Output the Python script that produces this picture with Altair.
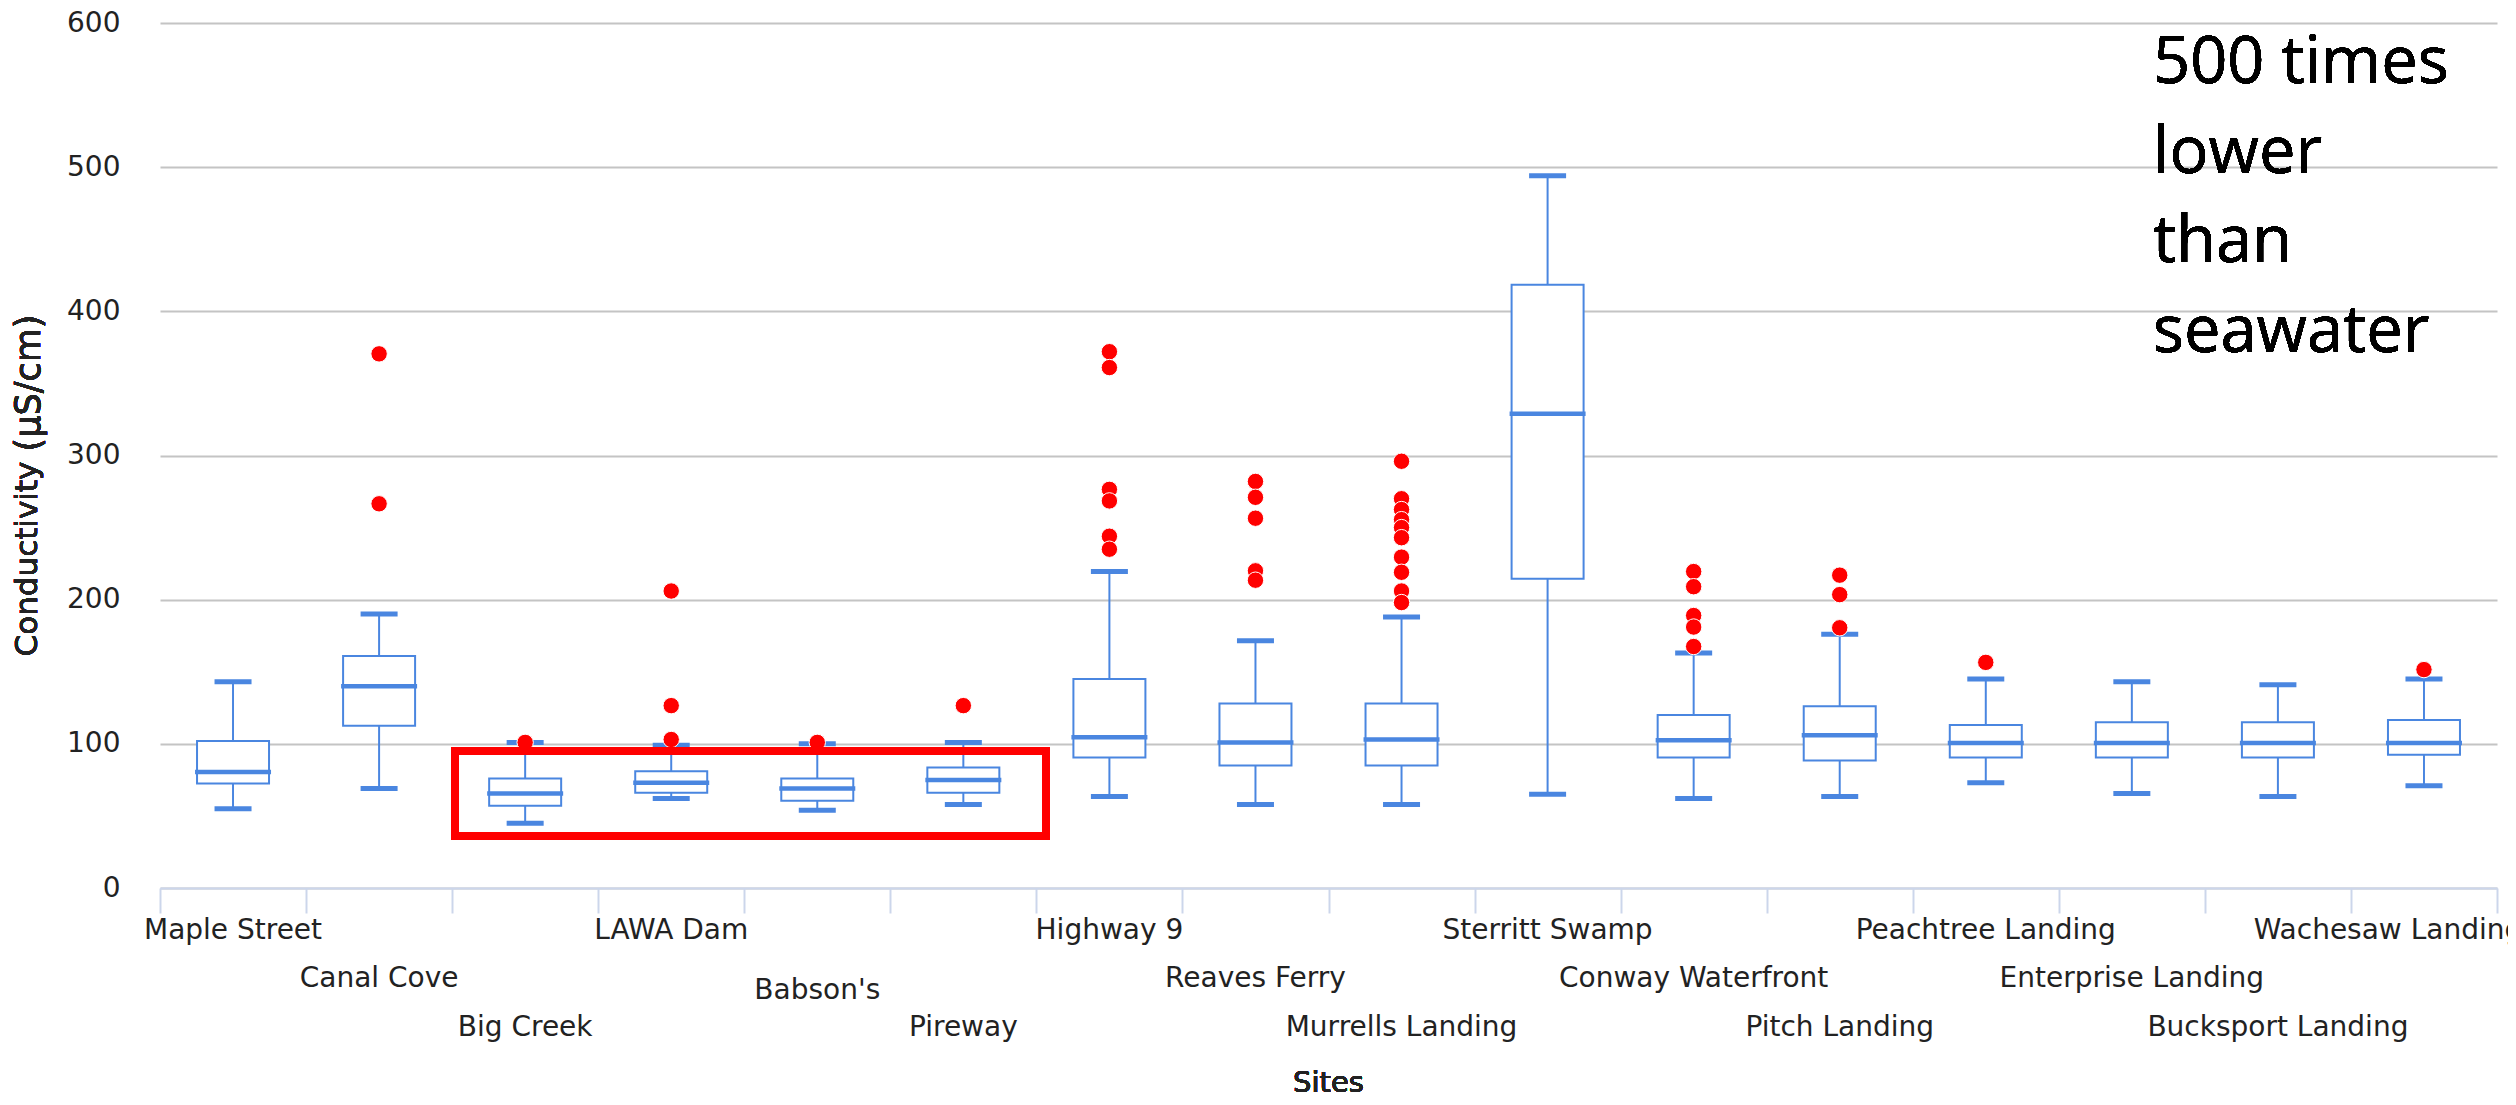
import altair as alt
import pandas as pd

# ---------------- data ----------------
sites = ["Maple Street", "Canal Cove", "Big Creek", "LAWA Dam", "Babson's", "Pireway",
         "Highway 9", "Reaves Ferry", "Murrells Landing", "Sterritt Swamp",
         "Conway Waterfront", "Pitch Landing", "Peachtree Landing",
         "Enterprise Landing", "Bucksport Landing", "Wachesaw Landing"]
label_row = [1, 2, 3, 1, 2.25, 3, 1, 2, 3, 1, 2, 3, 1, 2, 3, 1]

low    = [55, 69, 45, 62, 54, 58, 63.5, 58, 58, 65, 62, 63.5, 73, 65.5, 63.5, 71]
q1     = [72.5, 112.5, 57, 66, 60.5, 66, 90.5, 85, 85, 214.5, 90.5, 88.5, 90.5, 90.5, 90.5, 92.5]
median = [80.5, 140, 65.5, 73, 69, 75, 104.5, 101, 103, 329, 102.5, 106, 100.5, 100.5, 100.5, 100.5]
q3     = [102, 161, 76, 81, 76, 83.5, 145, 128, 128, 418.5, 120, 126, 113, 115, 115, 116.5]
high   = [143, 190, 101, 99, 100, 101, 219.5, 171.5, 188, 494, 163, 176, 145, 143, 141, 145]

outlier_site = (["Canal Cove"] * 2 + ["Big Creek"] + ["LAWA Dam"] * 3 + ["Babson's"] + ["Pireway"]
                + ["Highway 9"] * 6 + ["Reaves Ferry"] * 5 + ["Murrells Landing"] * 10
                + ["Conway Waterfront"] * 5 + ["Pitch Landing"] * 3
                + ["Peachtree Landing"] + ["Wachesaw Landing"])
outlier_value = ([370.5, 266.5] + [101] + [206, 126.5, 103] + [101] + [126.5]
                 + [372, 361, 276.5, 268.5, 244, 235]
                 + [282, 271, 256.5, 220, 213.5]
                 + [296, 270, 262.5, 255.5, 250, 243, 229.5, 219, 206, 198]
                 + [219.5, 209, 189, 181, 167.5]
                 + [217, 203.5, 180.5]
                 + [156.5] + [151.5])

y_ticks = [0, 100, 200, 300, 400, 500, 600]
note_lines = ["500 times", "lower", "than", "seawater"]
y_title_a = "Conductivity"
y_title_b = "(µS/cm)"
x_title = "Sites"

# ---------------- styling ----------------
W, H = 2337, 865
FONT = "DejaVu Sans"
BLUE = "#4a86e0"
RED = "#ff0000"
TXT = "#222222"

stats = pd.DataFrame(dict(site=sites, row=label_row, low=low, q1=q1,
                          median=median, q3=q3, high=high))
outl = pd.DataFrame(dict(site=outlier_site, value=outlier_value))

xaxis = alt.Axis(title=None, labels=False, ticks=True, tickBand="extent", tickSize=25,
                 tickColor="#ccd6eb", tickWidth=2, domainColor="#ccd6eb", domainWidth=2,
                 grid=False, zindex=1)
xscale = alt.Scale(domain=sites, paddingInner=0, paddingOuter=0)
yscale = alt.Scale(domain=[0, 600], nice=False, zero=True)
yaxis = alt.Axis(title=None, values=y_ticks, grid=True, gridColor="#c4c4c4", gridWidth=2,
                 domain=False, ticks=False, tickSize=0, labelPadding=40, labelFont=FONT,
                 labelFontSize=28, labelColor=TXT)


def X():
    return alt.X("site:N", sort=sites, scale=xscale, axis=xaxis)


def Y(field):
    return alt.Y(field, type="quantitative", scale=yscale, axis=yaxis)


base = alt.Chart(stats)

whisker = base.mark_rule(color=BLUE, strokeWidth=2).encode(x=X(), y=Y("low"), y2="high:Q")
box = base.mark_bar(fill="white", stroke=BLUE, strokeWidth=2, size=72).encode(
    x=X(), y=Y("q1"), y2="q3:Q")
med = base.mark_tick(color=BLUE, thickness=4.5, size=76, opacity=1).encode(x=X(), y=Y("median"))
cap_lo = base.mark_tick(color=BLUE, thickness=5, size=37, opacity=1).encode(x=X(), y=Y("low"))
cap_hi = base.mark_tick(color=BLUE, thickness=5, size=37, opacity=1).encode(x=X(), y=Y("high"))

points = alt.Chart(outl).mark_point(filled=True, shape="circle", fill=RED, stroke="white",
                                    strokeWidth=1, size=270, opacity=1).encode(
    x=X(), y=Y("value"))

# staggered category labels (three rows under the axis); the last one is nudged
# left as the original renderer did to keep it inside the chart
last = sites[-1].replace("'", "\\'")
label_layers = []
for r in sorted(set(label_row)):
    for is_last in (False, True):
        cond = f"datum.row == {r} && " + (f"datum.site === '{last}'" if is_last
                                          else f"datum.site !== '{last}'")
        label_layers.append(
            base.transform_filter(cond)
            .mark_text(font=FONT, fontSize=28, color=TXT, align="center", baseline="middle",
                       dy=42.5 + (r - 1) * 48.5, dx=-36 if is_last else 0)
            .encode(x=X(), y=alt.Y(datum=0, scale=yscale, axis=yaxis), text="site:N")
        )

xt = alt.Chart(stats).mark_text(text=x_title, font=FONT, fontSize=29, color=TXT,
                                align="center", baseline="middle").encode(
    x=alt.value(W / 2), y=alt.value(H + 195))

yt_a = alt.Chart(stats).mark_text(text=y_title_a, font=FONT, fontSize=31, color=TXT, angle=270,
                                  align="center", baseline="middle").encode(
    x=alt.value(-132), y=alt.value(536))
yt_b = alt.Chart(stats).mark_text(text=y_title_b, font=FONT, fontSize=35, color=TXT, angle=270,
                                  align="center", baseline="middle").encode(
    x=alt.value(-131), y=alt.value(360))

note = alt.Chart(stats).mark_text(text=note_lines, font="Open Sans", fontSize=65, color="#000000",
                                  align="left", baseline="top", lineHeight=89.5).encode(
    x=alt.value(1993), y=alt.value(9))

highlight = alt.Chart(stats).mark_rect(fill="white", fillOpacity=0, stroke=RED, strokeWidth=8).encode(
    x=alt.value(295), x2=alt.value(886),
    y=alt.Y(datum=95, scale=yscale, axis=yaxis), y2=alt.datum(36))

chart = alt.layer(whisker, box, med, cap_lo, cap_hi, points, *label_layers,
                  xt, yt_a, yt_b, note, highlight).properties(
    width=W, height=H,
    autosize=alt.AutoSizeParams(type="none"),
    padding={"left": 152, "top": 15, "right": 11, "bottom": 209},
    background="white",
).configure_view(stroke=None)

chart.save("out.html", embed_options={"renderer": "svg", "actions": False})
